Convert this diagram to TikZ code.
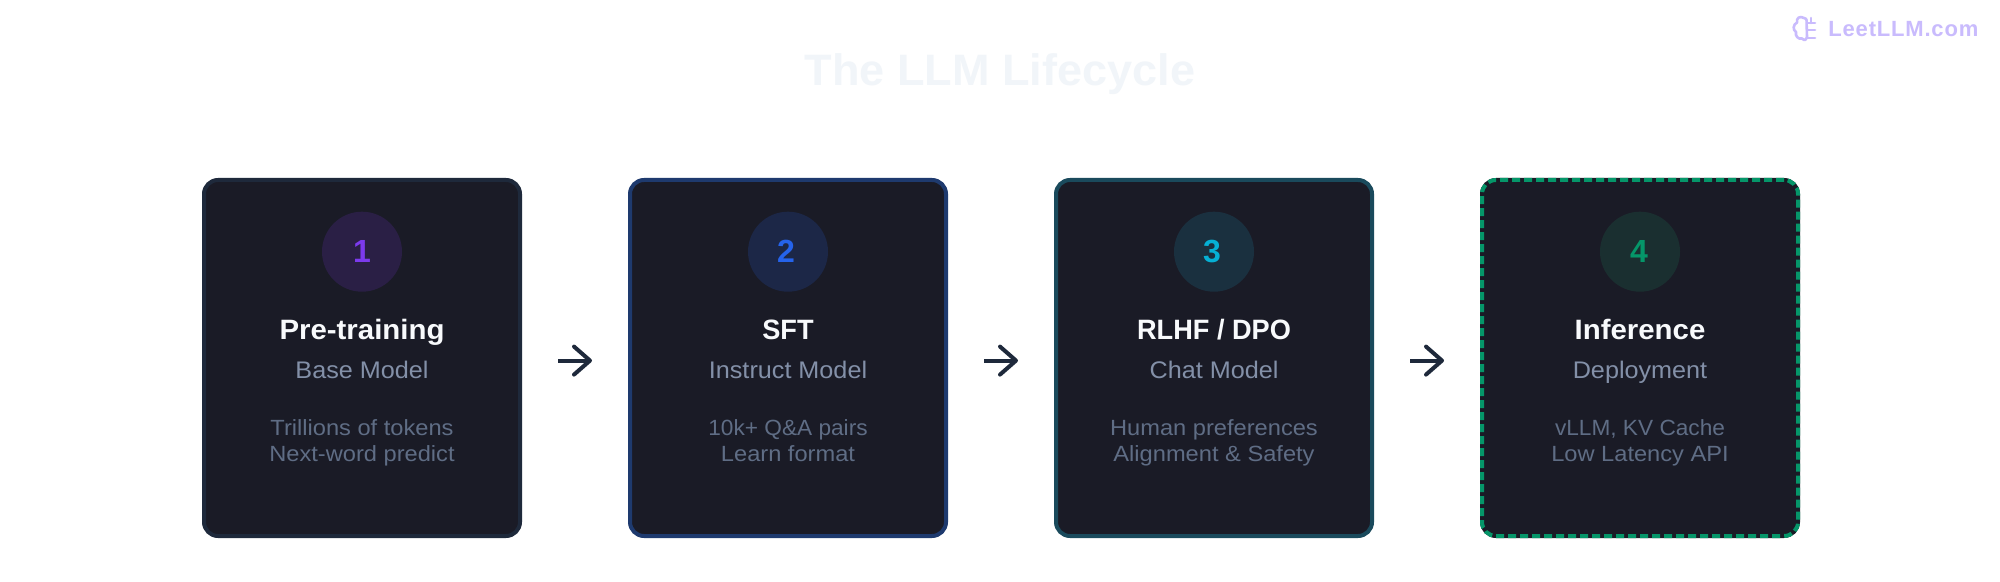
\documentclass[tikz,border=0pt]{standalone}
\usepackage{fontspec}
\setmainfont{Liberation Sans}
\newfontfamily\titlefont[FakeStretch=1.023]{Liberation Sans}
\newfontfamily\namefont[FakeStretch=1.05]{Liberation Sans}
\newfontfamily\namefontcaps[FakeStretch=0.97]{Liberation Sans}
\newfontfamily\subfont[FakeStretch=1.05]{Liberation Sans}
\newfontfamily\detfont[FakeStretch=1.075]{Liberation Sans}
\newfontfamily\detfontnarrow[FakeStretch=1.03]{Liberation Sans}
\newfontfamily\markfont[LetterSpace=3.7]{Liberation Sans}
\usetikzlibrary{arrows.meta}
\definecolor{cardfill}{HTML}{1A1B26}
\definecolor{titlec}{HTML}{F1F5F9}
\definecolor{markc}{HTML}{C9BBFD}
\definecolor{namec}{HTML}{F8FAFC}
\definecolor{subc}{HTML}{8390A8}
\definecolor{detc}{HTML}{5F6D85}
\definecolor{arrc}{HTML}{1E293B}
\definecolor{bA}{HTML}{1E293B}\definecolor{bB}{HTML}{1E3A6E}\definecolor{bC}{HTML}{1A4A5C}\definecolor{bD}{HTML}{059669}
\definecolor{cA}{HTML}{2A1F45}\definecolor{cB}{HTML}{1C2747}\definecolor{cC}{HTML}{1A303F}\definecolor{cD}{HTML}{1A2F30}
\definecolor{nA}{HTML}{7C3AED}\definecolor{nB}{HTML}{2563EB}\definecolor{nC}{HTML}{06B0D4}\definecolor{nD}{HTML}{059669}
\tikzset{
 cardbox/.style={draw,fill=cardfill,line width=2pt,rounded corners=7pt,minimum width=158pt,minimum height=178pt,inner sep=0pt},
 badgecirc/.style={circle,minimum size=40pt,inner sep=0pt},
 basetext/.style={anchor=base,inner sep=0pt,align=center},
 numtext/.style={basetext,font=\fontsize{16}{16}\selectfont\bfseries},
 nametext/.style={basetext,text=namec,font=\namefont\fontsize{14}{14}\selectfont\bfseries},
 nametextcaps/.style={basetext,text=namec,font=\namefontcaps\fontsize{14}{14}\selectfont\bfseries},
 subtext/.style={basetext,text=subc,font=\subfont\fontsize{12}{12}\selectfont},
 dettext/.style={basetext,text=detc,font=\detfont\fontsize{11}{11}\selectfont},
 dettextnarrow/.style={basetext,text=detc,font=\detfontnarrow\fontsize{11}{11}\selectfont},
 flowline/.style={draw=arrc,line width=2pt,-{Straight Barb[length=8pt,width=14pt,line width=2pt,round]},shorten <=18pt,shorten >=18pt},
 brainline/.style={draw=markc,line width=1.3pt,line cap=round,line join=round},
}
\begin{document}
\begin{tikzpicture}[x=0.5pt,y=-0.5pt]
\useasboundingbox (0,0) rectangle (2000,582);
\fill[white] (0,0) rectangle (2000,582);
\node[basetext,text=titlec,font=\titlefont\fontsize{22}{22}\selectfont\bfseries] (title) at (1000,85.5) {The LLM Lifecycle};
% watermark
\node[basetext,anchor=base west,text=markc,font=\markfont\fontsize{11}{11}\selectfont\bfseries] (mark) at (1828,37) {LeetLLM.com};
\draw[brainline] (1804,18) .. controls (1800,15.5) and (1796,18) .. (1797,22.5) .. controls (1793,24.5) and (1792.5,30) .. (1796,32) .. controls (1795,36) and (1798,39.5) .. (1802,38.5) .. controls (1804,41) and (1807,40) .. (1807,37.5) -- (1806.5,20) .. controls (1806.5,19) and (1805.5,18.5) .. (1804,18);
\draw[brainline] (1807,23) -- (1815,23) (1807,30) -- (1815,30) (1807,38) -- (1815,38) (1811,18) -- (1811,23);
% cards
\node[cardbox,draw=bA] (card1) at (362,358) {};
\node[cardbox,draw=bB] (card2) at (788,358) {};
\node[cardbox,draw=bC] (card3) at (1214,358) {};
\node[cardbox,draw=bD,dash pattern=on 4pt off 2pt,preaction={draw=cardfill,solid}] (card4) at (1640,358) {};
% badges
\node[badgecirc,fill=cA] (badge1) at (362,251.7) {};
\node[badgecirc,fill=cB] (badge2) at (788,251.7) {};
\node[badgecirc,fill=cC] (badge3) at (1214,251.7) {};
\node[badgecirc,fill=cD] (badge4) at (1640,251.7) {};
\node[numtext,text=nA] (num1) at (362,263) {1};
\node[numtext,text=nB] (num2) at (786,263) {2};
\node[numtext,text=nC] (num3) at (1212,263) {3};
\node[numtext,text=nD] (num4) at (1639,263) {4};
% card 1
\node[nametext] (name1) at (362,340) {Pre-training};
\node[subtext] (sub1) at (362,379) {Base Model};
\node[dettext] (da1) at (362,435) {Trillions of tokens};
\node[dettext] (db1) at (362,461) {Next-word predict};
% card 2
\node[nametextcaps] (name2) at (788,340) {SFT};
\node[subtext] (sub2) at (788,379) {Instruct Model};
\node[dettextnarrow] (da2) at (788,435) {10k+ Q\&A pairs};
\node[dettext] (db2) at (788,461) {Learn format};
% card 3
\node[nametextcaps] (name3) at (1214,340) {RLHF / DPO};
\node[subtext] (sub3) at (1214,379) {Chat Model};
\node[dettext] (da3) at (1214,435) {Human preferences};
\node[dettext] (db3) at (1214,461) {Alignment \& Safety};
% card 4
\node[nametext] (name4) at (1640,340) {Inference};
\node[subtext] (sub4) at (1640,379) {Deployment};
\node[dettextnarrow] (da4) at (1640,435) {vLLM, KV Cache};
\node[dettext] (db4) at (1640,461) {Low Latency API};
% connectors
\draw[flowline] ([yshift=-1.3pt]card1.east) -- ([yshift=-1.3pt]card2.west);
\draw[flowline] ([yshift=-1.3pt]card2.east) -- ([yshift=-1.3pt]card3.west);
\draw[flowline] ([yshift=-1.3pt]card3.east) -- ([yshift=-1.3pt]card4.west);
\end{tikzpicture}
\end{document}
